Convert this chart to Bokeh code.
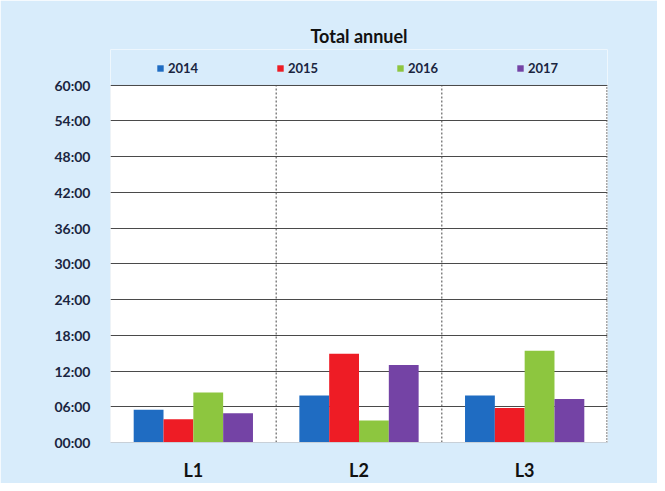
from bokeh.plotting import figure
from bokeh.models import (FactorRange, Legend, LegendItem, FixedTicker, Range1d,
                          Title, BoxAnnotation, ColumnDataSource)
from bokeh.transform import dodge
from bokeh.embed import file_html
from bokeh.resources import INLINE

# data (hours)
categories = ["L1", "L2", "L3"]
years = ["2014", "2015", "2016", "2017"]
v2014 = [5.5, 7.9, 7.9]
v2015 = [3.9, 14.9, 5.8]
v2016 = [8.4, 3.7, 15.4]
v2017 = [4.9, 13.0, 7.3]
y_ticks = [0, 6, 12, 18, 24, 30, 36, 42, 48, 54, 60]
y_tick_labels = ["00:00", "06:00", "12:00", "18:00", "24:00", "30:00",
                 "36:00", "42:00", "48:00", "54:00", "60:00"]
y_max = 60

colors = ["#1f6cc2", "#ee1c25", "#8dc63f", "#7443a5"]
BG = "#d8ecfb"
FONT = "Lato"

src = ColumnDataSource(dict(cats=categories, y2014=v2014, y2015=v2015,
                            y2016=v2016, y2017=v2017))
inner = ColumnDataSource(dict(cats=categories[:-1], y0=[0] * (len(categories) - 1),
                              y1=[y_max] * (len(categories) - 1)))
edge = ColumnDataSource(dict(cats=categories[-1:], y0=[0], y1=[y_max]))

p = figure(x_range=FactorRange(factors=categories), y_range=Range1d(0, 66),
           width=657, height=483, output_backend="svg", toolbar_location=None)
p.min_border_left = 110
p.min_border_right = 50
p.min_border_bottom = 40
p.min_border_top = 49
p.border_fill_color = BG
p.background_fill_color = "white"
p.outline_line_color = None

# blue band above the plot area (holds the legend)
p.add_layout(BoxAnnotation(bottom=y_max, fill_color=BG, fill_alpha=1,
                           line_color=None, level="image"))
# faint left edge of the plot area
p.add_layout(BoxAnnotation(top=y_max, bottom=0, fill_alpha=0,
                           line_color="#c0c8d0", line_width=1, level="image"))

title = Title(text="Total annuel", align="center", text_font=FONT,
              text_font_size="18px", text_font_style="bold", text_color="#111111",
              standoff=6)
p.add_layout(title, "above")

offsets = [-0.27, -0.09, 0.09, 0.27]
items = []
for yr, off, col in zip(years, offsets, colors):
    r = p.vbar(x=dodge("cats", off, range=p.x_range), top="y" + yr, width=0.18,
               source=src, fill_color=col, line_color=None)
    items.append(LegendItem(label=yr, renderers=[r]))

# category separators and right border
bx = dodge("cats", 0.5, range=p.x_range)
p.segment(x0=bx, y0="y0", x1=bx, y1="y1", source=inner,
          line_color="#444444", line_dash="2 2", line_width=1, level="underlay")
p.segment(x0=dodge("cats", 0.497, range=p.x_range), y0="y0",
          x1=dodge("cats", 0.497, range=p.x_range), y1="y1", source=edge,
          line_color="#555555", line_dash="1 2", line_width=2, level="underlay")

legend = Legend(items=items, orientation="horizontal", glyph_width=8, glyph_height=8,
                label_width=108, label_standoff=4, spacing=0, label_height=16,
                label_text_font=FONT, label_text_font_size="13px",
                label_text_font_style="bold", label_text_color="#1a2540",
                background_fill_alpha=0, border_line_color=None,
                padding=2, margin=0, location=(46, 366))
p.add_layout(legend, "center")

# grids
p.xgrid.grid_line_color = None
p.ygrid.ticker = FixedTicker(ticks=y_ticks)
p.ygrid.grid_line_color = "#4a4a4a"
p.ygrid.grid_line_width = 1.2

# axes
p.yaxis.ticker = FixedTicker(ticks=y_ticks)
p.yaxis.major_label_overrides = {t: s for t, s in zip(y_ticks, y_tick_labels)}
p.yaxis.major_tick_line_color = None
p.yaxis.minor_tick_line_color = None
p.yaxis.axis_line_color = None
p.yaxis.major_label_text_font = FONT
p.yaxis.major_label_text_font_size = "14px"
p.yaxis.major_label_text_font_style = "bold"
p.yaxis.major_label_text_color = "#1a2540"
p.yaxis.major_label_standoff = 14

p.xaxis.major_tick_line_color = None
p.xaxis.axis_line_color = "#c8d0d8"
p.xaxis.major_label_text_font = FONT
p.xaxis.major_label_text_font_size = "18px"
p.xaxis.major_label_text_font_style = "bold"
p.xaxis.major_label_text_color = "#111111"
p.xaxis.major_label_standoff = 10

open("out.html", "w").write(file_html(p, INLINE))
